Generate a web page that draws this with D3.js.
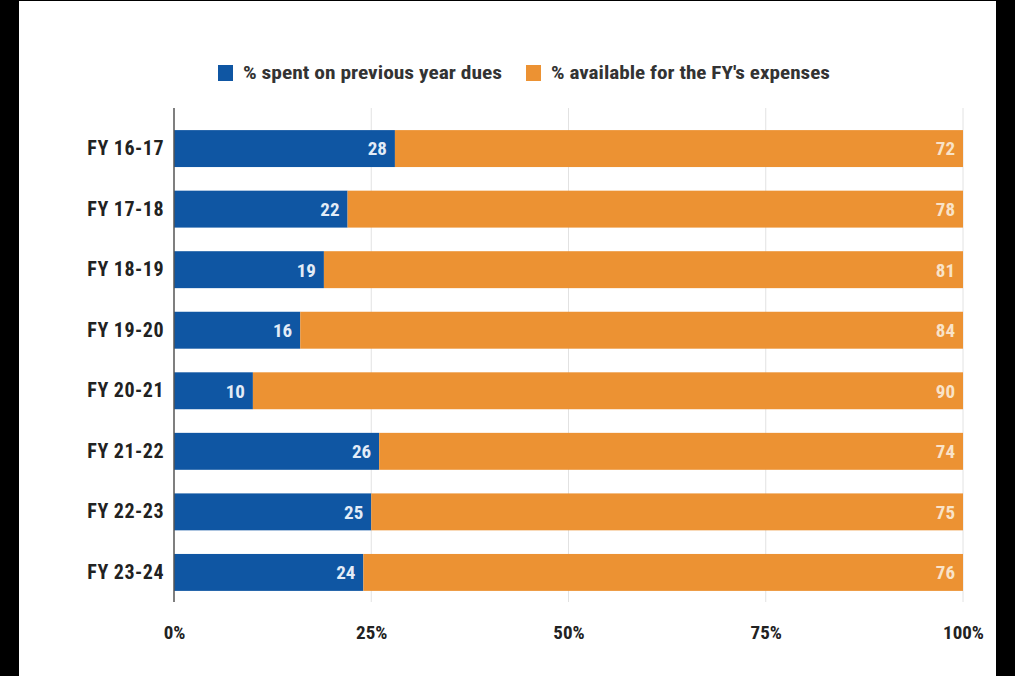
<!DOCTYPE html>
<html>
<head>
<meta charset="utf-8">
<script src="https://cdn.jsdelivr.net/npm/d3@7"></script>
<style>
html,body{margin:0;padding:0;background:#000;}
svg{display:block;}
text{font-family:"Liberation Sans Narrow","Roboto Condensed","Roboto",sans-serif;font-weight:bold;}
</style>
</head>
<body>
<svg id="chart" width="1015" height="676"></svg>
<script>
const categories = ["FY 16-17","FY 17-18","FY 18-19","FY 19-20","FY 20-21","FY 21-22","FY 22-23","FY 23-24"];
const spentPrev = [28,22,19,16,10,26,25,24];
const available = [72,78,81,84,90,74,75,76];
const seriesNames = ["% spent on previous year dues","% available for the FY's expenses"];
const seriesColors = ["#0f56a3","#ec9233"];
const tickValues = [0,25,50,75,100];

const FONT = '"Liberation Sans Narrow","Roboto Condensed",sans-serif';
const svg = d3.select("#chart");
svg.append("rect").attr("x",19).attr("y",1).attr("width",977).attr("height",675).attr("fill","#fff");

const x = d3.scaleLinear().domain([0,100]).range([174,963]);
const y = d3.scaleBand().domain(categories).range([118,603]).paddingInner(0.39).paddingOuter(0.2);

// gridlines
svg.append("g").selectAll("line").data(tickValues.slice(1)).join("line")
  .attr("x1",d=>x(d)).attr("x2",d=>x(d)).attr("y1",108).attr("y2",602)
  .attr("stroke","#e2e2e2").attr("stroke-width",1);

const stackData = categories.map((c,i)=>({cat:c, s0:spentPrev[i], s1:available[i]}));
const stack = d3.stack().keys(["s0","s1"])(stackData);

stack.forEach((layer,k)=>{
  const g = svg.append("g");
  g.selectAll("rect").data(layer).join("rect")
    .attr("x",d=>x(d[0])).attr("width",d=>x(d[1])-x(d[0]))
    .attr("y",d=>y(d.data.cat)).attr("height",y.bandwidth())
    .attr("fill",seriesColors[k]);
  g.selectAll("text").data(layer).join("text")
    .attr("x",d=>x(d[1])-8).attr("y",d=>y(d.data.cat)+y.bandwidth()/2)
    .attr("dy","0.36em").attr("text-anchor","end")
    .attr("fill", k===0 ? "#e3ecf7" : "#f9e3c8")
    .attr("font-size",19)
    .text(d=>d[1]-d[0]);
});

// zero axis line
svg.append("line").attr("x1",x(0)).attr("x2",x(0)).attr("y1",108).attr("y2",602)
  .attr("stroke","#555").attr("stroke-width",1.5);

// y axis labels
const yAxis = d3.axisLeft(y).tickSize(0).tickPadding(10);
const yg = svg.append("g").attr("transform",`translate(${x(0)},0)`).call(yAxis);
yg.select(".domain").remove();
yg.selectAll("text").attr("font-size",20).attr("fill","#222")
  .style("letter-spacing","0.5px")
  .style("font-family",FONT).style("font-weight","bold");

// x axis labels
const xAxis = d3.axisBottom(x).tickValues(tickValues).tickFormat(d=>d+"%").tickSize(0).tickPadding(0);
const xg = svg.append("g").attr("transform","translate(0,625)").call(xAxis);
xg.select(".domain").remove();
xg.selectAll("text").attr("font-size",19).attr("fill","#222")
  .style("font-family",FONT).style("font-weight","bold");

// legend
const legendX = [218,526];
const legendW = [259,279];
const lg = svg.append("g");
seriesNames.forEach((n,i)=>{
  lg.append("rect").attr("x",legendX[i]).attr("y",65).attr("width",15).attr("height",16).attr("fill",seriesColors[i]);
  lg.append("text").attr("x",legendX[i]+25).attr("y",73).attr("dy","0.35em")
    .attr("font-size",18).attr("fill","#333").style("font-weight","bold")
    .attr("textLength",legendW[i]).attr("lengthAdjust","spacingAndGlyphs")
    .style("font-family",FONT).text(n);
});
</script>
</body>
</html>
